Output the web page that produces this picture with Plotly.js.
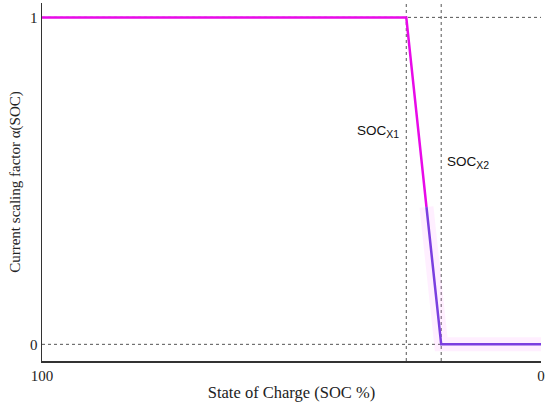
<!DOCTYPE html>
<html><head><meta charset="utf-8">
<script src="https://cdn.plot.ly/plotly-3.0.1.min.js"></script>
<style>body{margin:0;background:#fff}#c{width:550px;height:405px}</style>
</head><body><div id="c"></div>
<script>
// data
const socFlat = [100, 27];
const alphaFlat = [1, 1];
const socDropUpper = [27, 22.95];
const alphaDropUpper = [1, 0.42];
const socDropLower = [22.95, 20, 0];
const alphaDropLower = [0.42, 0, 0];
const socX1 = 27;
const socX2 = 20;
const xTickVals = [100, 0];
const xTickText = ['100', '0'];
const yTickVals = [0, 1];
const yTickText = ['0', '1'];

const magenta = '#e80ae8';
const purple = '#7b3fe0';

const traces = [
  {x: socDropLower, y: alphaDropLower, mode: 'lines', line: {color: 'rgba(255,120,255,0.12)', width: 14}, hoverinfo: 'skip'},
  {x: socFlat.concat(socDropUpper.slice(1)), y: alphaFlat.concat(alphaDropUpper.slice(1)), mode: 'lines', line: {color: magenta, width: 2.5}},
  {x: socDropLower, y: alphaDropLower, mode: 'lines', line: {color: purple, width: 2.5}}
];

const dash = {color: '#555', width: 1, dash: '3px,3px'};
const annFont = {family: 'Liberation Sans, Arial, sans-serif', size: 13.5, color: '#111'};
const layout = {
  width: 550, height: 405,
  margin: {l: 42, r: 9, t: 3, b: 44},
  paper_bgcolor: '#fff', plot_bgcolor: '#fff',
  showlegend: false,
  font: {family: 'Liberation Serif, Times New Roman, serif', size: 15, color: '#222'},
  xaxis: {range: [100, 0], tickvals: xTickVals, ticktext: xTickText, showgrid: false, zeroline: false,
    showline: true, linecolor: '#333', linewidth: 1.5, ticks: '', ticklen: 0,
    title: {text: 'State of Charge (SOC %)', standoff: 4, font: {size: 16.5}}},
  yaxis: {range: [-0.051, 1.044], tickvals: yTickVals, ticktext: yTickText, showgrid: false, zeroline: false,
    showline: true, linecolor: '#333', linewidth: 1.5, ticks: '', ticklen: 0,
    title: {text: 'Current scaling factor α(SOC)', standoff: 6, font: {size: 15}}},
  shapes: [
    {type: 'line', xref: 'x', yref: 'y', x0: 100, x1: 0, y0: 1, y1: 1, line: dash, layer: 'below'},
    {type: 'line', xref: 'x', yref: 'y', x0: 100, x1: 0, y0: 0, y1: 0, line: dash, layer: 'below'},
    {type: 'line', xref: 'x', yref: 'paper', x0: socX1, x1: socX1, y0: 0, y1: 1, line: dash, layer: 'below'},
    {type: 'line', xref: 'x', yref: 'paper', x0: socX2, x1: socX2, y0: 0, y1: 1, line: dash, layer: 'below'}
  ],
  annotations: [
    {x: socX1, y: 0.65, xref: 'x', yref: 'y', text: 'SOC<sub><span style="font-size:10.5px">X1</span></sub>', showarrow: false, xanchor: 'right', xshift: -5, font: annFont},
    {x: socX2, y: 0.555, xref: 'x', yref: 'y', text: 'SOC<sub><span style="font-size:10.5px">X2</span></sub>', showarrow: false, xanchor: 'left', xshift: 4, font: annFont}
  ]
};
Plotly.newPlot('c', traces, layout, {displayModeBar: false, staticPlot: true});
</script></body></html>
